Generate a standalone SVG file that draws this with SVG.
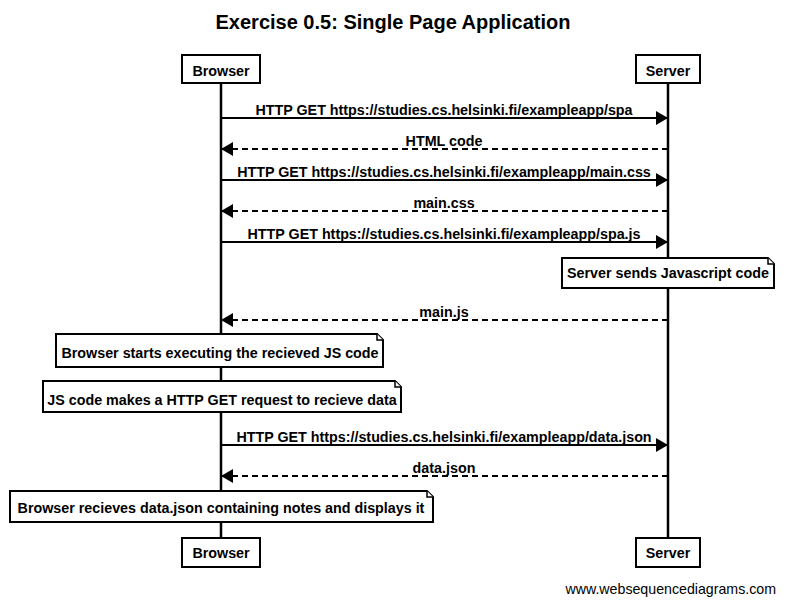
<svg xmlns="http://www.w3.org/2000/svg" width="785" height="604" viewBox="0 0 785 604">
<style>
text{font-family:"Liberation Sans",Arial,sans-serif;font-weight:bold;fill:#000}
.t{font-size:14.3px;text-anchor:middle}
.box{fill:#fff;stroke:#000;stroke-width:2}
.life{stroke:#000;stroke-width:2.5}
.msg{stroke:#000;stroke-width:2;fill:none}
.dash{stroke-dasharray:6,4}
.note{fill:#fff;stroke:#000;stroke-width:2}
.fold{fill:#fff;stroke:#000;stroke-width:1.5}
</style>
<defs>
<marker id="ah" markerWidth="12" markerHeight="14" refX="12" refY="7" orient="auto" markerUnits="userSpaceOnUse">
<path d="M0,0 L12,7 L0,14 Z" fill="#000"/>
</marker>
</defs>
<rect width="785" height="604" fill="#fff"/>
<text x="393" y="29" style="font-size:20px" text-anchor="middle">Exercise 0.5: Single Page Application</text>
<g id="lifelines">
<line class="life" x1="221" y1="83" x2="221" y2="538"/>
<line class="life" x1="668" y1="83" x2="668" y2="538"/>
</g>
<g id="browser-top"><rect class="box" x="182" y="55" width="78" height="28"/><text class="t" x="221" y="76">Browser</text></g>
<g id="server-top"><rect class="box" x="636" y="55" width="64" height="28"/><text class="t" x="668" y="76">Server</text></g>
<g id="browser-bottom"><rect class="box" x="182" y="538" width="78" height="29"/><text class="t" x="221" y="558">Browser</text></g>
<g id="server-bottom"><rect class="box" x="636" y="538" width="64" height="29"/><text class="t" x="668" y="558">Server</text></g>
<g id="connectors">
<line class="msg" x1="221" y1="118" x2="668" y2="118" marker-end="url(#ah)"/>
<text class="t" x="444" y="115">HTTP GET https://studies.cs.helsinki.fi/exampleapp/spa</text>
<line class="msg dash" x1="668" y1="149" x2="221" y2="149" marker-end="url(#ah)"/>
<text class="t" x="444" y="146">HTML code</text>
<line class="msg" x1="221" y1="180" x2="668" y2="180" marker-end="url(#ah)"/>
<text class="t" x="444" y="177">HTTP GET https://studies.cs.helsinki.fi/exampleapp/main.css</text>
<line class="msg dash" x1="668" y1="211" x2="221" y2="211" marker-end="url(#ah)"/>
<text class="t" x="444" y="208">main.css</text>
<line class="msg" x1="221" y1="242" x2="668" y2="242" marker-end="url(#ah)"/>
<text class="t" x="444" y="239">HTTP GET https://studies.cs.helsinki.fi/exampleapp/spa.js</text>
<line class="msg dash" x1="668" y1="320" x2="221" y2="320" marker-end="url(#ah)"/>
<text class="t" x="444" y="317">main.js</text>
<line class="msg" x1="221" y1="445" x2="668" y2="445" marker-end="url(#ah)"/>
<text class="t" x="444" y="442">HTTP GET https://studies.cs.helsinki.fi/exampleapp/data.json</text>
<line class="msg dash" x1="668" y1="476" x2="221" y2="476" marker-end="url(#ah)"/>
<text class="t" x="444" y="473">data.json</text>
</g>
<g id="note-server">
<path class="note" d="M562,258 H768 L774,264 V288 H562 Z"/>
<path class="fold" d="M768,258 V264 H774"/>
<text class="t" x="668" y="278">Server sends Javascript code</text>
</g>
<g id="note-exec">
<path class="note" d="M56,334 H377 L383,340 V367 H56 Z"/>
<path class="fold" d="M377,334 V340 H383"/>
<text class="t" x="220" y="358">Browser starts executing the recieved JS code</text>
</g>
<g id="note-request">
<path class="note" d="M43,381 H395 L401,387 V412 H43 Z"/>
<path class="fold" d="M395,381 V387 H401"/>
<text class="t" x="222" y="405">JS code makes a HTTP GET request to recieve data</text>
</g>
<g id="note-display">
<path class="note" d="M10,491 H427 L433,497 V522 H10 Z"/>
<path class="fold" d="M427,491 V497 H433"/>
<text class="t" x="221" y="513">Browser recieves data.json containing notes and displays it</text>
</g>
<text x="776" y="594" style="font-size:14.2px;font-weight:normal" text-anchor="end">www.websequencediagrams.com</text>
</svg>
